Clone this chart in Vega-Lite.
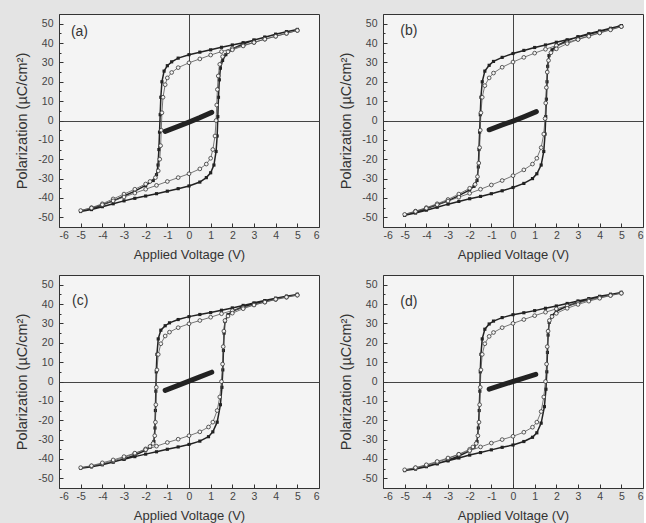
{
"$schema":"https://vega.github.io/schema/vega-lite/v6.json",
"padding":{"left":14,"top":8,"right":0,"bottom":0},
"data":{"values":[
{"p":"a","s":"f","v":5,"y":47},{"p":"a","s":"f","v":4.5,"y":45.8},{"p":"a","s":"f","v":4,"y":44.5},{"p":"a","s":"f","v":3.5,"y":43},{"p":"a","s":"f","v":3,"y":41.5},{"p":"a","s":"f","v":2.5,"y":40.2},{"p":"a","s":"f","v":2,"y":39},{"p":"a","s":"f","v":1.5,"y":37.8},{"p":"a","s":"f","v":1,"y":36.5},{"p":"a","s":"f","v":0.5,"y":35.3},{"p":"a","s":"f","v":0,"y":34},{"p":"a","s":"f","v":-0.5,"y":32.2},{"p":"a","s":"f","v":-0.8,"y":30.3},{"p":"a","s":"f","v":-1,"y":28.3},{"p":"a","s":"f","v":-1.15,"y":25.5},{"p":"a","s":"f","v":-1.25,"y":20},{"p":"a","s":"f","v":-1.3,"y":12},{"p":"a","s":"f","v":-1.33,"y":3},{"p":"a","s":"f","v":-1.36,"y":-6},{"p":"a","s":"f","v":-1.39,"y":-15},{"p":"a","s":"f","v":-1.43,"y":-23},{"p":"a","s":"f","v":-1.5,"y":-28},{"p":"a","s":"f","v":-1.65,"y":-31},{"p":"a","s":"f","v":-2,"y":-33.5},{"p":"a","s":"f","v":-2.5,"y":-36.5},{"p":"a","s":"f","v":-3,"y":-39},{"p":"a","s":"f","v":-3.5,"y":-41.5},{"p":"a","s":"f","v":-4,"y":-43.5},{"p":"a","s":"f","v":-4.5,"y":-45.5},{"p":"a","s":"f","v":-5,"y":-47},
{"p":"a","s":"f","v":-4.5,"y":-46},{"p":"a","s":"f","v":-4,"y":-44.5},{"p":"a","s":"f","v":-3.5,"y":-43},{"p":"a","s":"f","v":-3,"y":-41.5},{"p":"a","s":"f","v":-2.5,"y":-40.2},{"p":"a","s":"f","v":-2,"y":-39},{"p":"a","s":"f","v":-1.5,"y":-37.8},{"p":"a","s":"f","v":-1,"y":-36.5},{"p":"a","s":"f","v":-0.5,"y":-35.2},{"p":"a","s":"f","v":0,"y":-33.8},{"p":"a","s":"f","v":0.5,"y":-31.8},{"p":"a","s":"f","v":0.8,"y":-29.5},{"p":"a","s":"f","v":1,"y":-27},{"p":"a","s":"f","v":1.15,"y":-23},{"p":"a","s":"f","v":1.25,"y":-16},{"p":"a","s":"f","v":1.3,"y":-8},{"p":"a","s":"f","v":1.33,"y":2},{"p":"a","s":"f","v":1.36,"y":12},{"p":"a","s":"f","v":1.4,"y":21},{"p":"a","s":"f","v":1.45,"y":27},{"p":"a","s":"f","v":1.55,"y":31},{"p":"a","s":"f","v":1.7,"y":34},{"p":"a","s":"f","v":2,"y":37},{"p":"a","s":"f","v":2.5,"y":39.5},{"p":"a","s":"f","v":3,"y":41.5},{"p":"a","s":"f","v":3.5,"y":43},{"p":"a","s":"f","v":4,"y":44.5},{"p":"a","s":"f","v":4.5,"y":45.8},{"p":"a","s":"f","v":5,"y":47},
{"p":"a","s":"o","v":5,"y":46.5},{"p":"a","s":"o","v":4.5,"y":45},{"p":"a","s":"o","v":4,"y":43.5},{"p":"a","s":"o","v":3.5,"y":42},{"p":"a","s":"o","v":3,"y":40.3},{"p":"a","s":"o","v":2.5,"y":38.8},{"p":"a","s":"o","v":2,"y":37.2},{"p":"a","s":"o","v":1.5,"y":35.6},{"p":"a","s":"o","v":1,"y":33.8},{"p":"a","s":"o","v":0.5,"y":31.8},{"p":"a","s":"o","v":0,"y":29.8},{"p":"a","s":"o","v":-0.5,"y":27.3},{"p":"a","s":"o","v":-0.8,"y":24.8},{"p":"a","s":"o","v":-1,"y":22},{"p":"a","s":"o","v":-1.1,"y":18.5},{"p":"a","s":"o","v":-1.2,"y":12},{"p":"a","s":"o","v":-1.25,"y":4},{"p":"a","s":"o","v":-1.28,"y":-5},{"p":"a","s":"o","v":-1.31,"y":-13},{"p":"a","s":"o","v":-1.35,"y":-20},{"p":"a","s":"o","v":-1.42,"y":-26},{"p":"a","s":"o","v":-1.55,"y":-29.5},{"p":"a","s":"o","v":-1.8,"y":-31.5},{"p":"a","s":"o","v":-2,"y":-32.8},{"p":"a","s":"o","v":-2.5,"y":-35.5},{"p":"a","s":"o","v":-3,"y":-38},{"p":"a","s":"o","v":-3.5,"y":-40.5},{"p":"a","s":"o","v":-4,"y":-43},{"p":"a","s":"o","v":-4.5,"y":-45},{"p":"a","s":"o","v":-5,"y":-46.5},
{"p":"a","s":"o","v":-4.5,"y":-45.2},{"p":"a","s":"o","v":-4,"y":-43.5},{"p":"a","s":"o","v":-3.5,"y":-41.5},{"p":"a","s":"o","v":-3,"y":-39.5},{"p":"a","s":"o","v":-2.5,"y":-37.5},{"p":"a","s":"o","v":-2,"y":-35.5},{"p":"a","s":"o","v":-1.5,"y":-33.5},{"p":"a","s":"o","v":-1,"y":-31.5},{"p":"a","s":"o","v":-0.5,"y":-29.5},{"p":"a","s":"o","v":0,"y":-27.5},{"p":"a","s":"o","v":0.5,"y":-25},{"p":"a","s":"o","v":0.8,"y":-22.5},{"p":"a","s":"o","v":1,"y":-19.5},{"p":"a","s":"o","v":1.1,"y":-15},{"p":"a","s":"o","v":1.2,"y":-8},{"p":"a","s":"o","v":1.25,"y":0},{"p":"a","s":"o","v":1.28,"y":8},{"p":"a","s":"o","v":1.31,"y":16},{"p":"a","s":"o","v":1.35,"y":23},{"p":"a","s":"o","v":1.42,"y":29},{"p":"a","s":"o","v":1.55,"y":33},{"p":"a","s":"o","v":1.8,"y":35.5},{"p":"a","s":"o","v":2,"y":36.5},{"p":"a","s":"o","v":2.5,"y":38.5},{"p":"a","s":"o","v":3,"y":40.3},{"p":"a","s":"o","v":3.5,"y":42},{"p":"a","s":"o","v":4,"y":43.5},{"p":"a","s":"o","v":4.5,"y":45},{"p":"a","s":"o","v":5,"y":46.5},
{"p":"a","s":"c","v":-1.1,"y":-5.6},{"p":"a","s":"c","v":-0.5,"y":-3},{"p":"a","s":"c","v":0,"y":-0.8},{"p":"a","s":"c","v":0.5,"y":1.5},{"p":"a","s":"c","v":1.05,"y":4.2},
{"p":"a","s":"t","v":-5.45,"y":45.5,"t":"(a)"},
{"p":"b","s":"f","v":5,"y":49},{"p":"b","s":"f","v":4.5,"y":47.5},{"p":"b","s":"f","v":4,"y":46},{"p":"b","s":"f","v":3.5,"y":44.5},{"p":"b","s":"f","v":3,"y":43},{"p":"b","s":"f","v":2.5,"y":41.7},{"p":"b","s":"f","v":2,"y":40.4},{"p":"b","s":"f","v":1.5,"y":39},{"p":"b","s":"f","v":1,"y":37.7},{"p":"b","s":"f","v":0.5,"y":36.2},{"p":"b","s":"f","v":0,"y":34.6},{"p":"b","s":"f","v":-0.5,"y":32.6},{"p":"b","s":"f","v":-0.9,"y":30.5},{"p":"b","s":"f","v":-1.1,"y":28.5},{"p":"b","s":"f","v":-1.3,"y":25.5},{"p":"b","s":"f","v":-1.42,"y":20},{"p":"b","s":"f","v":-1.48,"y":12},{"p":"b","s":"f","v":-1.51,"y":3},{"p":"b","s":"f","v":-1.54,"y":-6},{"p":"b","s":"f","v":-1.57,"y":-15},{"p":"b","s":"f","v":-1.6,"y":-24},{"p":"b","s":"f","v":-1.66,"y":-31},{"p":"b","s":"f","v":-1.8,"y":-34},{"p":"b","s":"f","v":-2,"y":-35.8},{"p":"b","s":"f","v":-2.5,"y":-38.8},{"p":"b","s":"f","v":-3,"y":-41.5},{"p":"b","s":"f","v":-3.5,"y":-43.5},{"p":"b","s":"f","v":-4,"y":-45.5},{"p":"b","s":"f","v":-4.5,"y":-47.3},{"p":"b","s":"f","v":-5,"y":-49},
{"p":"b","s":"f","v":-4.5,"y":-47.8},{"p":"b","s":"f","v":-4,"y":-46.3},{"p":"b","s":"f","v":-3.5,"y":-44.8},{"p":"b","s":"f","v":-3,"y":-43.2},{"p":"b","s":"f","v":-2.5,"y":-41.8},{"p":"b","s":"f","v":-2,"y":-40.4},{"p":"b","s":"f","v":-1.5,"y":-39.2},{"p":"b","s":"f","v":-1,"y":-37.8},{"p":"b","s":"f","v":-0.5,"y":-36.3},{"p":"b","s":"f","v":0,"y":-34.6},{"p":"b","s":"f","v":0.5,"y":-32.5},{"p":"b","s":"f","v":0.9,"y":-30},{"p":"b","s":"f","v":1.1,"y":-27.5},{"p":"b","s":"f","v":1.3,"y":-23},{"p":"b","s":"f","v":1.42,"y":-16},{"p":"b","s":"f","v":1.48,"y":-7},{"p":"b","s":"f","v":1.51,"y":2},{"p":"b","s":"f","v":1.54,"y":11},{"p":"b","s":"f","v":1.57,"y":20},{"p":"b","s":"f","v":1.6,"y":28},{"p":"b","s":"f","v":1.66,"y":33.5},{"p":"b","s":"f","v":1.8,"y":36.5},{"p":"b","s":"f","v":2,"y":38.5},{"p":"b","s":"f","v":2.5,"y":41.2},{"p":"b","s":"f","v":3,"y":43.3},{"p":"b","s":"f","v":3.5,"y":44.8},{"p":"b","s":"f","v":4,"y":46.2},{"p":"b","s":"f","v":4.5,"y":47.6},{"p":"b","s":"f","v":5,"y":49},
{"p":"b","s":"o","v":5,"y":48.5},{"p":"b","s":"o","v":4.5,"y":47},{"p":"b","s":"o","v":4,"y":45.3},{"p":"b","s":"o","v":3.5,"y":43.7},{"p":"b","s":"o","v":3,"y":42},{"p":"b","s":"o","v":2.5,"y":40.3},{"p":"b","s":"o","v":2,"y":38.7},{"p":"b","s":"o","v":1.5,"y":36.8},{"p":"b","s":"o","v":1,"y":34.8},{"p":"b","s":"o","v":0.5,"y":32.6},{"p":"b","s":"o","v":0,"y":30.2},{"p":"b","s":"o","v":-0.5,"y":27.5},{"p":"b","s":"o","v":-0.9,"y":24.5},{"p":"b","s":"o","v":-1.1,"y":22},{"p":"b","s":"o","v":-1.3,"y":18},{"p":"b","s":"o","v":-1.42,"y":12},{"p":"b","s":"o","v":-1.48,"y":4},{"p":"b","s":"o","v":-1.51,"y":-5},{"p":"b","s":"o","v":-1.54,"y":-14},{"p":"b","s":"o","v":-1.58,"y":-22},{"p":"b","s":"o","v":-1.64,"y":-29},{"p":"b","s":"o","v":-1.75,"y":-33},{"p":"b","s":"o","v":-2,"y":-35},{"p":"b","s":"o","v":-2.5,"y":-38},{"p":"b","s":"o","v":-3,"y":-40.8},{"p":"b","s":"o","v":-3.5,"y":-43},{"p":"b","s":"o","v":-4,"y":-45},{"p":"b","s":"o","v":-4.5,"y":-46.8},{"p":"b","s":"o","v":-5,"y":-48.5},
{"p":"b","s":"o","v":-4.5,"y":-47},{"p":"b","s":"o","v":-4,"y":-45.3},{"p":"b","s":"o","v":-3.5,"y":-43.5},{"p":"b","s":"o","v":-3,"y":-41.6},{"p":"b","s":"o","v":-2.5,"y":-39.6},{"p":"b","s":"o","v":-2,"y":-37.6},{"p":"b","s":"o","v":-1.5,"y":-35.5},{"p":"b","s":"o","v":-1,"y":-33.3},{"p":"b","s":"o","v":-0.5,"y":-31},{"p":"b","s":"o","v":0,"y":-28.5},{"p":"b","s":"o","v":0.5,"y":-25.5},{"p":"b","s":"o","v":0.9,"y":-22.5},{"p":"b","s":"o","v":1.1,"y":-19.5},{"p":"b","s":"o","v":1.3,"y":-14},{"p":"b","s":"o","v":1.42,"y":-7},{"p":"b","s":"o","v":1.48,"y":1},{"p":"b","s":"o","v":1.51,"y":9},{"p":"b","s":"o","v":1.54,"y":17},{"p":"b","s":"o","v":1.58,"y":25},{"p":"b","s":"o","v":1.64,"y":31},{"p":"b","s":"o","v":1.75,"y":35},{"p":"b","s":"o","v":2,"y":37},{"p":"b","s":"o","v":2.5,"y":39.7},{"p":"b","s":"o","v":3,"y":41.8},{"p":"b","s":"o","v":3.5,"y":43.5},{"p":"b","s":"o","v":4,"y":45.2},{"p":"b","s":"o","v":4.5,"y":46.8},{"p":"b","s":"o","v":5,"y":48.5},
{"p":"b","s":"c","v":-1.1,"y":-4.8},{"p":"b","s":"c","v":-0.5,"y":-2.3},{"p":"b","s":"c","v":0,"y":-0.3},{"p":"b","s":"c","v":0.5,"y":1.9},{"p":"b","s":"c","v":1.08,"y":4.6},
{"p":"b","s":"t","v":-5.2,"y":46,"t":"(b)"},
{"p":"c","s":"f","v":5,"y":45},{"p":"c","s":"f","v":4.5,"y":44},{"p":"c","s":"f","v":4,"y":43},{"p":"c","s":"f","v":3.5,"y":41.8},{"p":"c","s":"f","v":3,"y":40.6},{"p":"c","s":"f","v":2.5,"y":39.3},{"p":"c","s":"f","v":2,"y":38},{"p":"c","s":"f","v":1.5,"y":36.8},{"p":"c","s":"f","v":1,"y":35.6},{"p":"c","s":"f","v":0.5,"y":34.6},{"p":"c","s":"f","v":0,"y":33.5},{"p":"c","s":"f","v":-0.5,"y":32},{"p":"c","s":"f","v":-0.9,"y":30.3},{"p":"c","s":"f","v":-1.1,"y":28.8},{"p":"c","s":"f","v":-1.3,"y":26.5},{"p":"c","s":"f","v":-1.42,"y":22},{"p":"c","s":"f","v":-1.48,"y":14},{"p":"c","s":"f","v":-1.51,"y":5},{"p":"c","s":"f","v":-1.53,"y":-5},{"p":"c","s":"f","v":-1.55,"y":-15},{"p":"c","s":"f","v":-1.57,"y":-24},{"p":"c","s":"f","v":-1.62,"y":-31},{"p":"c","s":"f","v":-1.8,"y":-34},{"p":"c","s":"f","v":-2,"y":-35.5},{"p":"c","s":"f","v":-2.5,"y":-38},{"p":"c","s":"f","v":-3,"y":-40},{"p":"c","s":"f","v":-3.5,"y":-41.6},{"p":"c","s":"f","v":-4,"y":-43},{"p":"c","s":"f","v":-4.5,"y":-44},{"p":"c","s":"f","v":-5,"y":-44.8},
{"p":"c","s":"f","v":-4.5,"y":-44},{"p":"c","s":"f","v":-4,"y":-42.8},{"p":"c","s":"f","v":-3.5,"y":-41.5},{"p":"c","s":"f","v":-3,"y":-40.2},{"p":"c","s":"f","v":-2.5,"y":-38.8},{"p":"c","s":"f","v":-2,"y":-37.5},{"p":"c","s":"f","v":-1.5,"y":-36.3},{"p":"c","s":"f","v":-1,"y":-35},{"p":"c","s":"f","v":-0.5,"y":-33.8},{"p":"c","s":"f","v":0,"y":-32.5},{"p":"c","s":"f","v":0.5,"y":-30.8},{"p":"c","s":"f","v":0.9,"y":-28.5},{"p":"c","s":"f","v":1.1,"y":-26},{"p":"c","s":"f","v":1.3,"y":-21},{"p":"c","s":"f","v":1.45,"y":-12},{"p":"c","s":"f","v":1.52,"y":-3},{"p":"c","s":"f","v":1.56,"y":6},{"p":"c","s":"f","v":1.59,"y":16},{"p":"c","s":"f","v":1.62,"y":25},{"p":"c","s":"f","v":1.66,"y":31},{"p":"c","s":"f","v":1.8,"y":34.5},{"p":"c","s":"f","v":2,"y":36.3},{"p":"c","s":"f","v":2.5,"y":38.6},{"p":"c","s":"f","v":3,"y":40.2},{"p":"c","s":"f","v":3.5,"y":41.6},{"p":"c","s":"f","v":4,"y":42.9},{"p":"c","s":"f","v":4.5,"y":44},{"p":"c","s":"f","v":5,"y":45},
{"p":"c","s":"o","v":5,"y":44.6},{"p":"c","s":"o","v":4.5,"y":43.5},{"p":"c","s":"o","v":4,"y":42.3},{"p":"c","s":"o","v":3.5,"y":41},{"p":"c","s":"o","v":3,"y":39.6},{"p":"c","s":"o","v":2.5,"y":38.1},{"p":"c","s":"o","v":2,"y":36.6},{"p":"c","s":"o","v":1.5,"y":35},{"p":"c","s":"o","v":1,"y":33.2},{"p":"c","s":"o","v":0.5,"y":31.5},{"p":"c","s":"o","v":0,"y":29.8},{"p":"c","s":"o","v":-0.5,"y":27.8},{"p":"c","s":"o","v":-0.9,"y":25.5},{"p":"c","s":"o","v":-1.1,"y":23.5},{"p":"c","s":"o","v":-1.3,"y":19.5},{"p":"c","s":"o","v":-1.42,"y":14},{"p":"c","s":"o","v":-1.48,"y":6},{"p":"c","s":"o","v":-1.51,"y":-3},{"p":"c","s":"o","v":-1.53,"y":-12},{"p":"c","s":"o","v":-1.55,"y":-21},{"p":"c","s":"o","v":-1.58,"y":-28},{"p":"c","s":"o","v":-1.66,"y":-32},{"p":"c","s":"o","v":-1.8,"y":-33.5},{"p":"c","s":"o","v":-2,"y":-34.8},{"p":"c","s":"o","v":-2.5,"y":-37.2},{"p":"c","s":"o","v":-3,"y":-39.3},{"p":"c","s":"o","v":-3.5,"y":-41},{"p":"c","s":"o","v":-4,"y":-42.5},{"p":"c","s":"o","v":-4.5,"y":-43.6},{"p":"c","s":"o","v":-5,"y":-44.5},
{"p":"c","s":"o","v":-4.5,"y":-43.5},{"p":"c","s":"o","v":-4,"y":-42},{"p":"c","s":"o","v":-3.5,"y":-40.5},{"p":"c","s":"o","v":-3,"y":-38.8},{"p":"c","s":"o","v":-2.5,"y":-37},{"p":"c","s":"o","v":-2,"y":-35.2},{"p":"c","s":"o","v":-1.5,"y":-33.4},{"p":"c","s":"o","v":-1,"y":-31.5},{"p":"c","s":"o","v":-0.5,"y":-29.8},{"p":"c","s":"o","v":0,"y":-28},{"p":"c","s":"o","v":0.5,"y":-26},{"p":"c","s":"o","v":0.9,"y":-23.5},{"p":"c","s":"o","v":1.1,"y":-21},{"p":"c","s":"o","v":1.3,"y":-15},{"p":"c","s":"o","v":1.42,"y":-8},{"p":"c","s":"o","v":1.5,"y":0},{"p":"c","s":"o","v":1.55,"y":9},{"p":"c","s":"o","v":1.58,"y":18},{"p":"c","s":"o","v":1.61,"y":26},{"p":"c","s":"o","v":1.66,"y":31.5},{"p":"c","s":"o","v":1.8,"y":33.8},{"p":"c","s":"o","v":2,"y":35.3},{"p":"c","s":"o","v":2.5,"y":37.6},{"p":"c","s":"o","v":3,"y":39.5},{"p":"c","s":"o","v":3.5,"y":41},{"p":"c","s":"o","v":4,"y":42.5},{"p":"c","s":"o","v":4.5,"y":43.6},{"p":"c","s":"o","v":5,"y":44.6},
{"p":"c","s":"c","v":-1.1,"y":-4.6},{"p":"c","s":"c","v":-0.5,"y":-2},{"p":"c","s":"c","v":0,"y":0.2},{"p":"c","s":"c","v":0.5,"y":2.4},{"p":"c","s":"c","v":1.05,"y":4.8},
{"p":"c","s":"t","v":-5.4,"y":41.7,"t":"(c)"},
{"p":"d","s":"f","v":5,"y":46},{"p":"d","s":"f","v":4.5,"y":45},{"p":"d","s":"f","v":4,"y":44},{"p":"d","s":"f","v":3.5,"y":42.8},{"p":"d","s":"f","v":3,"y":41.6},{"p":"d","s":"f","v":2.5,"y":40.3},{"p":"d","s":"f","v":2,"y":39},{"p":"d","s":"f","v":1.5,"y":37.8},{"p":"d","s":"f","v":1,"y":36.6},{"p":"d","s":"f","v":0.5,"y":35.5},{"p":"d","s":"f","v":0,"y":34.5},{"p":"d","s":"f","v":-0.5,"y":33},{"p":"d","s":"f","v":-0.9,"y":31.2},{"p":"d","s":"f","v":-1.1,"y":29.7},{"p":"d","s":"f","v":-1.3,"y":27},{"p":"d","s":"f","v":-1.42,"y":22},{"p":"d","s":"f","v":-1.48,"y":14},{"p":"d","s":"f","v":-1.51,"y":5},{"p":"d","s":"f","v":-1.53,"y":-5},{"p":"d","s":"f","v":-1.56,"y":-15},{"p":"d","s":"f","v":-1.6,"y":-24},{"p":"d","s":"f","v":-1.66,"y":-31},{"p":"d","s":"f","v":-1.8,"y":-34},{"p":"d","s":"f","v":-2,"y":-35.8},{"p":"d","s":"f","v":-2.5,"y":-38.5},{"p":"d","s":"f","v":-3,"y":-40.7},{"p":"d","s":"f","v":-3.5,"y":-42.5},{"p":"d","s":"f","v":-4,"y":-44},{"p":"d","s":"f","v":-4.5,"y":-45.2},{"p":"d","s":"f","v":-5,"y":-46},
{"p":"d","s":"f","v":-4.5,"y":-45},{"p":"d","s":"f","v":-4,"y":-43.8},{"p":"d","s":"f","v":-3.5,"y":-42.4},{"p":"d","s":"f","v":-3,"y":-41},{"p":"d","s":"f","v":-2.5,"y":-39.5},{"p":"d","s":"f","v":-2,"y":-38},{"p":"d","s":"f","v":-1.5,"y":-36.7},{"p":"d","s":"f","v":-1,"y":-35.3},{"p":"d","s":"f","v":-0.5,"y":-34},{"p":"d","s":"f","v":0,"y":-32.8},{"p":"d","s":"f","v":0.5,"y":-31},{"p":"d","s":"f","v":0.9,"y":-28.8},{"p":"d","s":"f","v":1.1,"y":-26.5},{"p":"d","s":"f","v":1.3,"y":-21.5},{"p":"d","s":"f","v":1.45,"y":-13},{"p":"d","s":"f","v":1.52,"y":-4},{"p":"d","s":"f","v":1.56,"y":5},{"p":"d","s":"f","v":1.59,"y":15},{"p":"d","s":"f","v":1.62,"y":24},{"p":"d","s":"f","v":1.67,"y":30.5},{"p":"d","s":"f","v":1.8,"y":34},{"p":"d","s":"f","v":2,"y":36.3},{"p":"d","s":"f","v":2.5,"y":39},{"p":"d","s":"f","v":3,"y":40.8},{"p":"d","s":"f","v":3.5,"y":42.5},{"p":"d","s":"f","v":4,"y":43.8},{"p":"d","s":"f","v":4.5,"y":45},{"p":"d","s":"f","v":5,"y":46},
{"p":"d","s":"o","v":5,"y":45.6},{"p":"d","s":"o","v":4.5,"y":44.5},{"p":"d","s":"o","v":4,"y":43.3},{"p":"d","s":"o","v":3.5,"y":42},{"p":"d","s":"o","v":3,"y":40.6},{"p":"d","s":"o","v":2.5,"y":39.1},{"p":"d","s":"o","v":2,"y":37.5},{"p":"d","s":"o","v":1.5,"y":35.8},{"p":"d","s":"o","v":1,"y":34},{"p":"d","s":"o","v":0.5,"y":32},{"p":"d","s":"o","v":0,"y":30},{"p":"d","s":"o","v":-0.5,"y":27.8},{"p":"d","s":"o","v":-0.9,"y":25.3},{"p":"d","s":"o","v":-1.1,"y":23.3},{"p":"d","s":"o","v":-1.3,"y":19.5},{"p":"d","s":"o","v":-1.42,"y":14},{"p":"d","s":"o","v":-1.48,"y":6},{"p":"d","s":"o","v":-1.51,"y":-3},{"p":"d","s":"o","v":-1.54,"y":-12},{"p":"d","s":"o","v":-1.57,"y":-21},{"p":"d","s":"o","v":-1.62,"y":-28},{"p":"d","s":"o","v":-1.7,"y":-32},{"p":"d","s":"o","v":-1.85,"y":-33.8},{"p":"d","s":"o","v":-2,"y":-35},{"p":"d","s":"o","v":-2.5,"y":-37.6},{"p":"d","s":"o","v":-3,"y":-39.8},{"p":"d","s":"o","v":-3.5,"y":-41.7},{"p":"d","s":"o","v":-4,"y":-43.3},{"p":"d","s":"o","v":-4.5,"y":-44.6},{"p":"d","s":"o","v":-5,"y":-45.6},
{"p":"d","s":"o","v":-4.5,"y":-44.5},{"p":"d","s":"o","v":-4,"y":-43},{"p":"d","s":"o","v":-3.5,"y":-41.3},{"p":"d","s":"o","v":-3,"y":-39.5},{"p":"d","s":"o","v":-2.5,"y":-37.6},{"p":"d","s":"o","v":-2,"y":-35.7},{"p":"d","s":"o","v":-1.5,"y":-33.8},{"p":"d","s":"o","v":-1,"y":-31.8},{"p":"d","s":"o","v":-0.5,"y":-30},{"p":"d","s":"o","v":0,"y":-28.3},{"p":"d","s":"o","v":0.5,"y":-26.2},{"p":"d","s":"o","v":0.9,"y":-23.6},{"p":"d","s":"o","v":1.1,"y":-21},{"p":"d","s":"o","v":1.3,"y":-15.5},{"p":"d","s":"o","v":1.42,"y":-8},{"p":"d","s":"o","v":1.5,"y":0},{"p":"d","s":"o","v":1.55,"y":9},{"p":"d","s":"o","v":1.58,"y":18},{"p":"d","s":"o","v":1.62,"y":26},{"p":"d","s":"o","v":1.68,"y":31.5},{"p":"d","s":"o","v":1.8,"y":33.5},{"p":"d","s":"o","v":2,"y":35.2},{"p":"d","s":"o","v":2.5,"y":37.8},{"p":"d","s":"o","v":3,"y":39.8},{"p":"d","s":"o","v":3.5,"y":41.5},{"p":"d","s":"o","v":4,"y":43},{"p":"d","s":"o","v":4.5,"y":44.4},{"p":"d","s":"o","v":5,"y":45.6},
{"p":"d","s":"c","v":-1.1,"y":-4},{"p":"d","s":"c","v":-0.5,"y":-1.8},{"p":"d","s":"c","v":0,"y":0},{"p":"d","s":"c","v":0.5,"y":1.8},{"p":"d","s":"c","v":1.05,"y":3.7},
{"p":"d","s":"t","v":-5.2,"y":41,"t":"(d)"}
]},
"spacing":7,
"vconcat":[
{"spacing":18,"hconcat":[
{"width":260,"height":213,"transform":[{"filter":"datum.p=='a'"}],
 "encoding":{"x":{"field":"v","type":"quantitative","scale":{"domain":[-6,6],"nice":false,"zero":false},"axis":{"orient":"bottom","values":[-6,-5.5,-5,-4.5,-4,-3.5,-3,-2.5,-2,-1.5,-1,-0.5,0,0.5,1,1.5,2,2.5,3,3.5,4,4.5,5,5.5,6],"format":"d","labelOverlap":false,"labelExpr":"datum.value % 1 ? '' : replace(datum.label,'\u2212','-')","title":"Applied Voltage (V)","domain":false,"tickSize":{"condition":{"test":"datum.value % 1 !== 0","value":-2},"value":-4},"labelPadding":7,"titlePadding":8,"grid":true,"gridColor":"#444","gridWidth":1,"gridOpacity":{"condition":{"test":"datum.value === 0","value":1},"value":0}}},
  "y":{"field":"y","type":"quantitative","scale":{"domain":[-55,55],"nice":false,"zero":false},"axis":{"orient":"left","values":[-55,-50,-45,-40,-35,-30,-25,-20,-15,-10,-5,0,5,10,15,20,25,30,35,40,45,50,55],"format":"d","labelOverlap":false,"labelExpr":"datum.value % 10 ? '' : replace(datum.label,'\u2212','-')","title":"Polarization (\u00b5C/cm\u00b2)","titleFontSize":14.5,"domain":false,"tickSize":{"condition":{"test":"datum.value % 10 !== 0","value":-2},"value":-4},"labelPadding":10,"titlePadding":8,"grid":true,"gridColor":"#444","gridWidth":1,"gridOpacity":{"condition":{"test":"datum.value === 0","value":1},"value":0}}}},
 "layer":[
{"mark":{"type":"line","color":"#222","strokeWidth":1.5,"point":{"shape":"square","filled":true,"size":10,"color":"#222"}},"transform":[{"filter":"datum.s=='f'"}],"encoding":{"order":{"value":null}}},
{"mark":{"type":"line","color":"#555","strokeWidth":0.8,"point":{"shape":"circle","filled":false,"fill":"#f4f4f4","stroke":"#333","strokeWidth":0.8,"size":14}},"transform":[{"filter":"datum.s=='o'"}],"encoding":{"order":{"value":null}}},
{"mark":{"type":"line","color":"#222","strokeWidth":5,"strokeCap":"round"},"transform":[{"filter":"datum.s=='c'"}],"encoding":{"order":{"value":null}}},
{"mark":{"type":"text","align":"left","baseline":"middle","fontSize":14,"color":"#333"},"transform":[{"filter":"datum.s=='t'"}],"encoding":{"text":{"field":"t"}}}
]},
{"width":260,"height":213,"transform":[{"filter":"datum.p=='b'"}],
 "encoding":{"x":{"field":"v","type":"quantitative","scale":{"domain":[-6,6],"nice":false,"zero":false},"axis":{"orient":"bottom","values":[-6,-5.5,-5,-4.5,-4,-3.5,-3,-2.5,-2,-1.5,-1,-0.5,0,0.5,1,1.5,2,2.5,3,3.5,4,4.5,5,5.5,6],"format":"d","labelOverlap":false,"labelExpr":"datum.value % 1 ? '' : replace(datum.label,'\u2212','-')","title":"Applied Voltage (V)","domain":false,"tickSize":{"condition":{"test":"datum.value % 1 !== 0","value":-2},"value":-4},"labelPadding":7,"titlePadding":8,"grid":true,"gridColor":"#444","gridWidth":1,"gridOpacity":{"condition":{"test":"datum.value === 0","value":1},"value":0}}},
  "y":{"field":"y","type":"quantitative","scale":{"domain":[-55,55],"nice":false,"zero":false},"axis":{"orient":"left","values":[-55,-50,-45,-40,-35,-30,-25,-20,-15,-10,-5,0,5,10,15,20,25,30,35,40,45,50,55],"format":"d","labelOverlap":false,"labelExpr":"datum.value % 10 ? '' : replace(datum.label,'\u2212','-')","title":"Polarization (\u00b5C/cm\u00b2)","titleFontSize":14.5,"domain":false,"tickSize":{"condition":{"test":"datum.value % 10 !== 0","value":-2},"value":-4},"labelPadding":10,"titlePadding":8,"grid":true,"gridColor":"#444","gridWidth":1,"gridOpacity":{"condition":{"test":"datum.value === 0","value":1},"value":0}}}},
 "layer":[
{"mark":{"type":"line","color":"#222","strokeWidth":1.5,"point":{"shape":"square","filled":true,"size":10,"color":"#222"}},"transform":[{"filter":"datum.s=='f'"}],"encoding":{"order":{"value":null}}},
{"mark":{"type":"line","color":"#555","strokeWidth":0.8,"point":{"shape":"circle","filled":false,"fill":"#f4f4f4","stroke":"#333","strokeWidth":0.8,"size":14}},"transform":[{"filter":"datum.s=='o'"}],"encoding":{"order":{"value":null}}},
{"mark":{"type":"line","color":"#222","strokeWidth":5,"strokeCap":"round"},"transform":[{"filter":"datum.s=='c'"}],"encoding":{"order":{"value":null}}},
{"mark":{"type":"text","align":"left","baseline":"middle","fontSize":14,"color":"#333"},"transform":[{"filter":"datum.s=='t'"}],"encoding":{"text":{"field":"t"}}}
]}
]},
{"spacing":18,"hconcat":[
{"width":260,"height":213,"transform":[{"filter":"datum.p=='c'"}],
 "encoding":{"x":{"field":"v","type":"quantitative","scale":{"domain":[-6,6],"nice":false,"zero":false},"axis":{"orient":"bottom","values":[-6,-5.5,-5,-4.5,-4,-3.5,-3,-2.5,-2,-1.5,-1,-0.5,0,0.5,1,1.5,2,2.5,3,3.5,4,4.5,5,5.5,6],"format":"d","labelOverlap":false,"labelExpr":"datum.value % 1 ? '' : replace(datum.label,'\u2212','-')","title":"Applied Voltage (V)","domain":false,"tickSize":{"condition":{"test":"datum.value % 1 !== 0","value":-2},"value":-4},"labelPadding":7,"titlePadding":8,"grid":true,"gridColor":"#444","gridWidth":1,"gridOpacity":{"condition":{"test":"datum.value === 0","value":1},"value":0}}},
  "y":{"field":"y","type":"quantitative","scale":{"domain":[-55,55],"nice":false,"zero":false},"axis":{"orient":"left","values":[-55,-50,-45,-40,-35,-30,-25,-20,-15,-10,-5,0,5,10,15,20,25,30,35,40,45,50,55],"format":"d","labelOverlap":false,"labelExpr":"datum.value % 10 ? '' : replace(datum.label,'\u2212','-')","title":"Polarization (\u00b5C/cm\u00b2)","titleFontSize":14.5,"domain":false,"tickSize":{"condition":{"test":"datum.value % 10 !== 0","value":-2},"value":-4},"labelPadding":10,"titlePadding":8,"grid":true,"gridColor":"#444","gridWidth":1,"gridOpacity":{"condition":{"test":"datum.value === 0","value":1},"value":0}}}},
 "layer":[
{"mark":{"type":"line","color":"#222","strokeWidth":1.5,"point":{"shape":"square","filled":true,"size":10,"color":"#222"}},"transform":[{"filter":"datum.s=='f'"}],"encoding":{"order":{"value":null}}},
{"mark":{"type":"line","color":"#555","strokeWidth":0.8,"point":{"shape":"circle","filled":false,"fill":"#f4f4f4","stroke":"#333","strokeWidth":0.8,"size":14}},"transform":[{"filter":"datum.s=='o'"}],"encoding":{"order":{"value":null}}},
{"mark":{"type":"line","color":"#222","strokeWidth":5,"strokeCap":"round"},"transform":[{"filter":"datum.s=='c'"}],"encoding":{"order":{"value":null}}},
{"mark":{"type":"text","align":"left","baseline":"middle","fontSize":14,"color":"#333"},"transform":[{"filter":"datum.s=='t'"}],"encoding":{"text":{"field":"t"}}}
]},
{"width":260,"height":213,"transform":[{"filter":"datum.p=='d'"}],
 "encoding":{"x":{"field":"v","type":"quantitative","scale":{"domain":[-6,6],"nice":false,"zero":false},"axis":{"orient":"bottom","values":[-6,-5.5,-5,-4.5,-4,-3.5,-3,-2.5,-2,-1.5,-1,-0.5,0,0.5,1,1.5,2,2.5,3,3.5,4,4.5,5,5.5,6],"format":"d","labelOverlap":false,"labelExpr":"datum.value % 1 ? '' : replace(datum.label,'\u2212','-')","title":"Applied Voltage (V)","domain":false,"tickSize":{"condition":{"test":"datum.value % 1 !== 0","value":-2},"value":-4},"labelPadding":7,"titlePadding":8,"grid":true,"gridColor":"#444","gridWidth":1,"gridOpacity":{"condition":{"test":"datum.value === 0","value":1},"value":0}}},
  "y":{"field":"y","type":"quantitative","scale":{"domain":[-55,55],"nice":false,"zero":false},"axis":{"orient":"left","values":[-55,-50,-45,-40,-35,-30,-25,-20,-15,-10,-5,0,5,10,15,20,25,30,35,40,45,50,55],"format":"d","labelOverlap":false,"labelExpr":"datum.value % 10 ? '' : replace(datum.label,'\u2212','-')","title":"Polarization (\u00b5C/cm\u00b2)","titleFontSize":14.5,"domain":false,"tickSize":{"condition":{"test":"datum.value % 10 !== 0","value":-2},"value":-4},"labelPadding":10,"titlePadding":8,"grid":true,"gridColor":"#444","gridWidth":1,"gridOpacity":{"condition":{"test":"datum.value === 0","value":1},"value":0}}}},
 "layer":[
{"mark":{"type":"line","color":"#222","strokeWidth":1.5,"point":{"shape":"square","filled":true,"size":10,"color":"#222"}},"transform":[{"filter":"datum.s=='f'"}],"encoding":{"order":{"value":null}}},
{"mark":{"type":"line","color":"#555","strokeWidth":0.8,"point":{"shape":"circle","filled":false,"fill":"#f4f4f4","stroke":"#333","strokeWidth":0.8,"size":14}},"transform":[{"filter":"datum.s=='o'"}],"encoding":{"order":{"value":null}}},
{"mark":{"type":"line","color":"#222","strokeWidth":5,"strokeCap":"round"},"transform":[{"filter":"datum.s=='c'"}],"encoding":{"order":{"value":null}}},
{"mark":{"type":"text","align":"left","baseline":"middle","fontSize":14,"color":"#333"},"transform":[{"filter":"datum.s=='t'"}],"encoding":{"text":{"field":"t"}}}
]}
]}
],
"config":{
 "background":"#e4e4e4",
 "view":{"fill":"#f4f4f4","stroke":"#333","strokeWidth":1},
 "font":"Liberation Sans",
 "text":{"font":"Liberation Sans"},
 "axis":{"labelFont":"Liberation Sans","labelFontSize":10.5,"labelColor":"#444","titleFont":"Liberation Sans","titleFontSize":13,"titleFontWeight":"normal","titleColor":"#333","tickColor":"#333"}
}
}
